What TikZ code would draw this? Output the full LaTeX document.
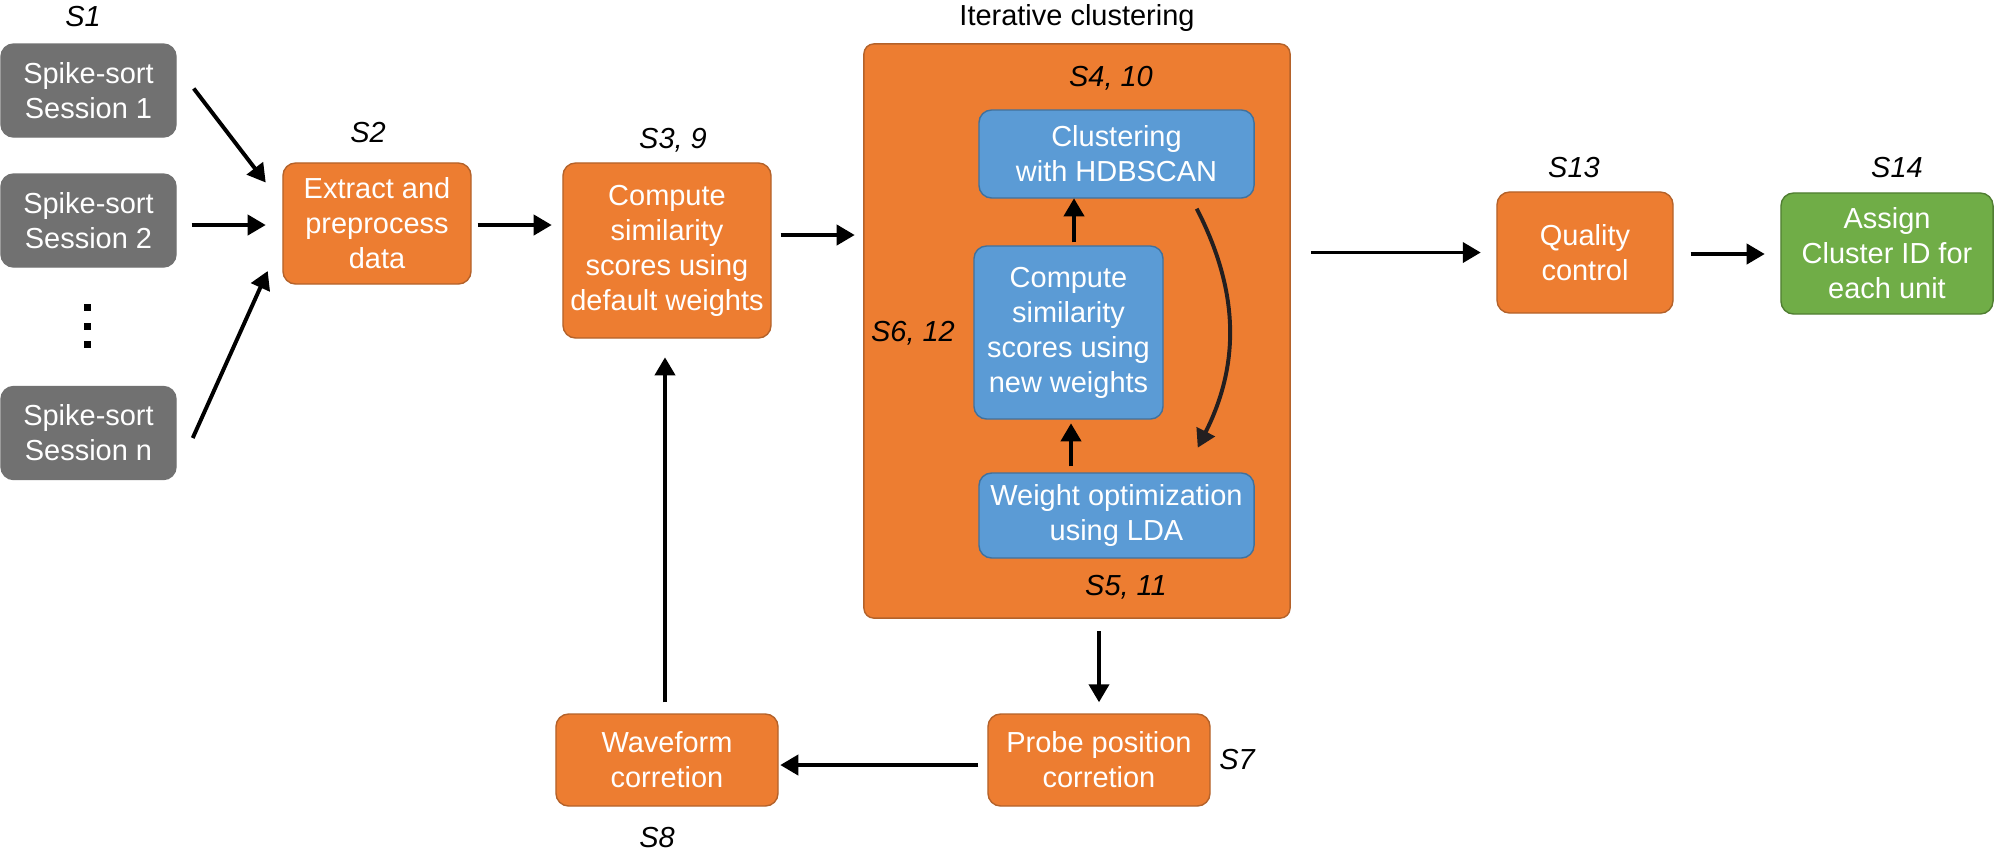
\documentclass[tikz,border=0pt]{standalone}
\usepackage{fontspec}
\setmainfont{Liberation Sans}
\usetikzlibrary{arrows.meta}
\definecolor{orfill}{HTML}{ED7D31}
\definecolor{ordraw}{HTML}{B4622A}
\definecolor{grfill}{HTML}{717171}
\definecolor{blfill}{HTML}{5B9BD5}
\definecolor{bldraw}{HTML}{41719C}
\definecolor{gnfill}{HTML}{70AD47}
\definecolor{gndraw}{HTML}{507E32}
\definecolor{curve}{HTML}{231F20}
\begin{document}
\begin{tikzpicture}[x=0.0125cm,y=-0.0125cm,
    every node/.style={font=\fontsize{10.3}{12.45}\selectfont},
    box/.style={rounded corners=4.5pt,align=center,text=white,line width=0.5pt,inner sep=1pt},
    orbox/.style={box,fill=orfill,draw=ordraw},
    sortbox/.style={box,fill=grfill,draw=grfill,minimum width=2.1875cm,minimum height=1.1625cm},
    blbox/.style={box,fill=blfill,draw=bldraw},
    lab/.style={font=\fontsize{10.3}{12.45}\selectfont\itshape},
    arr/.style={-{Triangle[length=6.4pt,width=7.1pt]},line width=1.4pt}]
\useasboundingbox (0,0) rectangle (1994,859);

% sessions
\node[lab] (ls1) at (83,17) {S1};
\node[sortbox] (s1) at (88.5,90.5) {Spike-sort\\Session 1};
\node[sortbox] (s2) at (88.5,220.5) {Spike-sort\\Session 2};
\node[sortbox] (sn) at (88.5,433) {Spike-sort\\Session n};
\foreach \y in {307,326,344}
    \fill (83.5,\y-3.5) rectangle +(7,7);

% preprocessing and default scores
\node[lab] (ls2) at (368,133) {S2};
\node[orbox,minimum width=2.35cm,minimum height=1.5125cm] (ext) at (377,223.5) {Extract and\\preprocess\\data};
\node[lab] (ls3) at (673,140) {S3, 9};
\node[orbox,minimum width=2.6cm,minimum height=2.1875cm] (cmp) at (667,250.5) {Compute\\similarity\\scores using\\default weights};

% iterative clustering
\node (lit) at (1077,18) {Iterative clustering};
\node[orbox,rounded corners=3.5pt,minimum width=5.325cm,minimum height=7.175cm] (big) at (1077,331) {};
\node[lab] (ls4) at (1111,78) {S4, 10};
\node[blbox,minimum width=3.4375cm,minimum height=1.1cm] (clu) at (1116.5,154) {Clustering\\with HDBSCAN};
\node[blbox,minimum width=2.3625cm,minimum height=2.1625cm] (neww) at (1068.5,332.5) {Compute\\similarity\\scores using\\new weights};
\node[blbox,minimum width=3.4375cm,minimum height=1.0625cm] (lda) at (1116.5,515.5) {Weight optimization\\using LDA};
\node[lab] (ls5) at (1126,587) {S5, 11};
\node[lab] (ls6) at (913,333) {S6, 12};

% quality control and ID
\node[lab] (ls13) at (1574,168) {S13};
\node[orbox,minimum width=2.2cm,minimum height=1.5125cm] (qc) at (1585,252.5) {Quality\\control};
\node[lab] (ls14) at (1897,168) {S14};
\node[box,fill=gnfill,draw=gndraw,minimum width=2.65cm,minimum height=1.5125cm] (asg) at (1887,253.5) {Assign\\Cluster ID for\\each unit};

% corrections
\node[orbox,minimum width=2.775cm,minimum height=1.15cm] (prb) at (1099,760) {Probe position\\corretion};
\node[lab] (ls7) at (1237,760) {S7};
\node[orbox,minimum width=2.775cm,minimum height=1.15cm] (wav) at (667,760) {Waveform\\corretion};
\node[lab] (ls8) at (657,838) {S8};

\begin{scope}[arr]
    \draw (s1.east) ++(17,-2) -- ++(72,94);
    \draw (s2.east) ++(15,4.5) -- ++(74,0);
    \draw (sn.east) ++(16,5) -- ++(75,-167);
    \draw (ext.east) ++(6,1.5) -- ++(74,0);
    \draw (cmp.east) ++(9,-15.5) -- ++(74,0);
    \draw (neww.north) ++(5.5,-3) -- ++(0,-44);
    \draw (lda.north) ++(-45.5,-6) -- ++(0,-43);
    \draw[curve] (clu.south east) ++(-58,10) to[bend left=27] ++(1,239);
    \draw (big.east |- qc.west) ++(20,0) -- ++(170,0);
    \draw (qc.east) ++(17,1.5) -- ++(74,0);
    \draw (prb.north) ++(0,-82) -- ++(0,71);
    \draw (prb.west) ++(-9,5) -- ++(-198,0);
    \draw (wav.north) ++(-2,-11) -- ++(0,-345);
\end{scope}
\end{tikzpicture}
\end{document}
